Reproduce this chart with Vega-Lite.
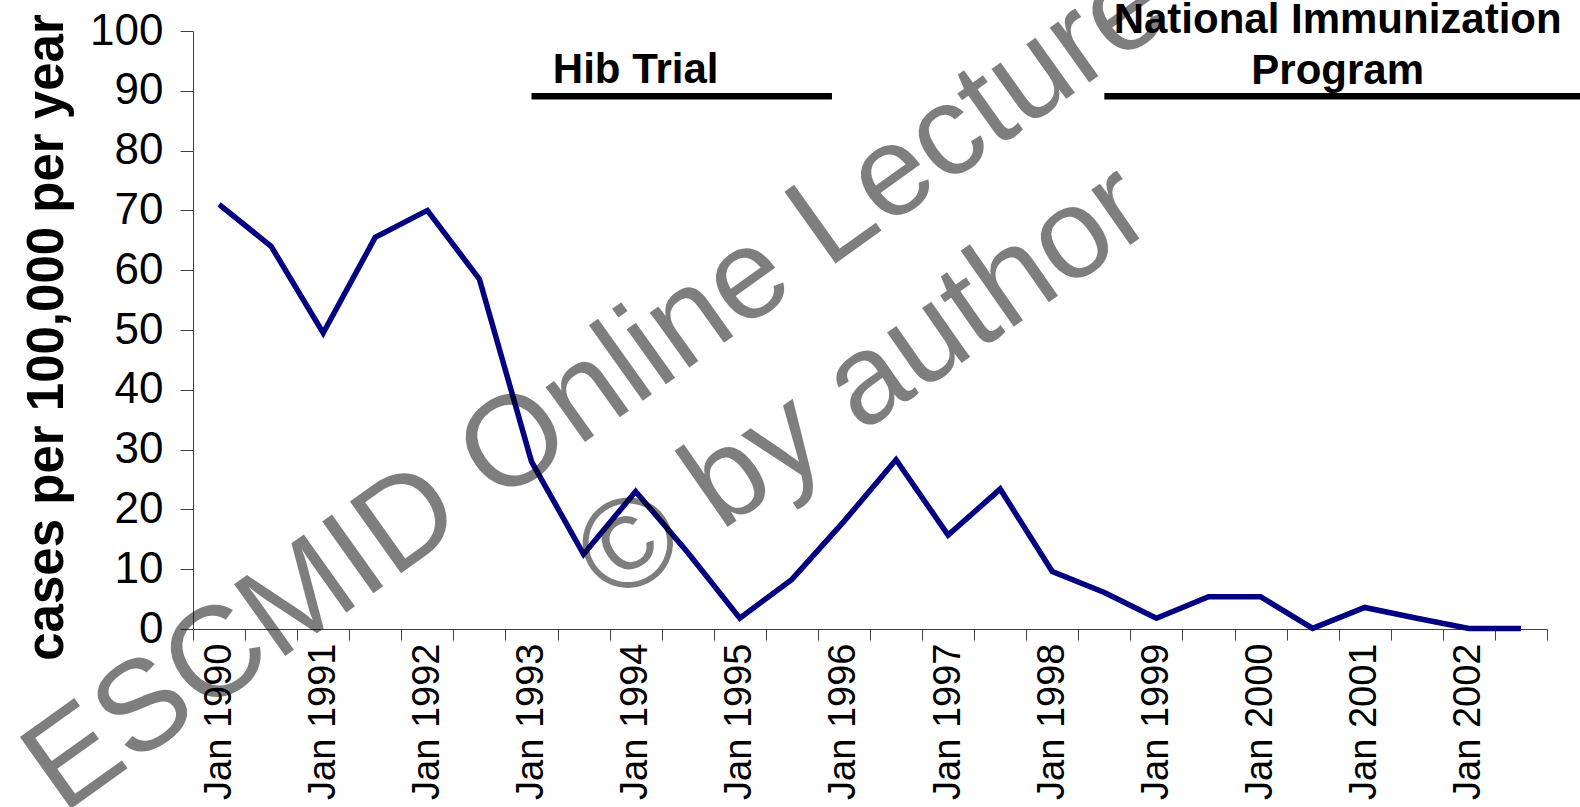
{
  "$schema": "https://vega.github.io/schema/vega-lite/v6.json",
  "width": 1354,
  "height": 598,
  "autosize": {"type": "none"},
  "padding": {"left": 193, "top": 31, "right": 33, "bottom": 178},
  "background": "white",
  "config": {"view": {"stroke": null}, "font": "Liberation Sans"},
  "datasets": {
    "cases": [
      {"period": "Jan 1990", "rate": 71},
      {"period": "Jul 1990", "rate": 64},
      {"period": "Jan 1991", "rate": 49.5},
      {"period": "Jul 1991", "rate": 65.5},
      {"period": "Jan 1992", "rate": 70},
      {"period": "Jul 1992", "rate": 58.5},
      {"period": "Jan 1993", "rate": 28},
      {"period": "Jul 1993", "rate": 12.5},
      {"period": "Jan 1994", "rate": 23},
      {"period": "Jul 1994", "rate": 12.8},
      {"period": "Jan 1995", "rate": 1.8},
      {"period": "Jul 1995", "rate": 8.3},
      {"period": "Jan 1996", "rate": 18},
      {"period": "Jul 1996", "rate": 28.3},
      {"period": "Jan 1997", "rate": 15.7},
      {"period": "Jul 1997", "rate": 23.4},
      {"period": "Jan 1998", "rate": 9.6},
      {"period": "Jul 1998", "rate": 6.1},
      {"period": "Jan 1999", "rate": 1.8},
      {"period": "Jul 1999", "rate": 5.4},
      {"period": "Jan 2000", "rate": 5.4},
      {"period": "Jul 2000", "rate": 0.1},
      {"period": "Jan 2001", "rate": 3.6},
      {"period": "Jul 2001", "rate": 1.8},
      {"period": "Jan 2002", "rate": 0.1},
      {"period": "Jul 2002", "rate": 0.1}
    ]
  },
  "layer": [
    {
      "data": {"name": "cases"},
      "mark": {"type": "line", "color": "#000080", "strokeWidth": 5.5, "strokeJoin": "miter"},
      "encoding": {
        "x": {
          "field": "period",
          "type": "ordinal",
          "sort": null,
          "scale": {
            "type": "band",
            "paddingInner": 0,
            "paddingOuter": 0,
            "domain": ["Jan 1990","Jul 1990","Jan 1991","Jul 1991","Jan 1992","Jul 1992","Jan 1993","Jul 1993","Jan 1994","Jul 1994","Jan 1995","Jul 1995","Jan 1996","Jul 1996","Jan 1997","Jul 1997","Jan 1998","Jul 1998","Jan 1999","Jul 1999","Jan 2000","Jul 2000","Jan 2001","Jul 2001","Jan 2002","Jul 2002"]
          },
          "axis": {
            "title": null,
            "labelExpr": "substring(datum.label,0,3)=='Jan' ? datum.label : ''",
            "labelAngle": 270,
            "labelAlign": "right",
            "labelBaseline": "middle",
            "labelFontSize": 38,
            "labelFont": "Liberation Sans",
            "labelColor": "#000000",
            "labelPadding": 3,
            "labelOverlap": false,
            "tickBand": "extent",
            "tickSize": 11,
            "tickColor": "#404040",
            "domainColor": "#404040"
          }
        },
        "y": {
          "field": "rate",
          "type": "quantitative",
          "scale": {"domain": [0, 100], "nice": false},
          "axis": {
            "title": "cases per 100,000 per year",
            "values": [0, 10, 20, 30, 40, 50, 60, 70, 80, 90, 100],
            "grid": false,
            "tickSize": 13,
            "tickColor": "#404040",
            "domainColor": "#404040",
            "labelFontSize": 44,
            "labelFont": "Liberation Sans Narrow, Liberation Sans",
            "labelColor": "#000000",
            "labelPadding": 17,
            "titleFont": "Liberation Sans",
            "titleFontSize": 51,
            "titleFontWeight": "bold",
            "titleColor": "#000000",
            "titleAngle": 270,
            "titleAlign": "center",
            "titleBaseline": "alphabetic",
            "titleX": -131,
            "titleY": 306
          }
        }
      }
    },
    {
      "data": {"values": [{"label": "Hib Trial"}]},
      "mark": {"type": "rule", "color": "#000000", "strokeWidth": 6.5, "x2Offset": -12},
      "encoding": {
        "x": {"datum": "Jan 1993"},
        "x2": {"datum": "Jan 1996"},
        "y": {"datum": 89.1}
      }
    },
    {
      "data": {"values": [{"label": "National Immunization Program"}]},
      "mark": {"type": "rule", "color": "#000000", "strokeWidth": 6.5, "x2Offset": 60},
      "encoding": {
        "x": {"datum": "Jul 1998"},
        "x2": {"datum": "Jul 2002"},
        "y": {"datum": 89.1}
      }
    },
    {
      "data": {"values": [{"label": "Hib Trial"}]},
      "mark": {"type": "text", "font": "Liberation Sans", "fontSize": 42, "fontWeight": "bold", "color": "#000000", "align": "center", "baseline": "alphabetic"},
      "encoding": {
        "x": {"datum": "Jan 1994"},
        "y": {"datum": 91.3},
        "text": {"field": "label"}
      }
    },
    {
      "data": {"values": [{"label": "National Immunization"}]},
      "mark": {"type": "text", "font": "Liberation Sans", "fontSize": 42, "fontWeight": "bold", "color": "#000000", "align": "center", "baseline": "alphabetic", "dx": 25},
      "encoding": {
        "x": {"datum": "Jul 2000"},
        "y": {"datum": 99.7},
        "text": {"field": "label"}
      }
    },
    {
      "data": {"values": [{"label": "Program"}]},
      "mark": {"type": "text", "font": "Liberation Sans", "fontSize": 42, "fontWeight": "bold", "color": "#000000", "align": "center", "baseline": "alphabetic", "dx": 25},
      "encoding": {
        "x": {"datum": "Jul 2000"},
        "y": {"datum": 91.2},
        "text": {"field": "label"}
      }
    },
    {
      "data": {"values": [{"label": "ESCMID Online Lecture"}]},
      "mark": {"type": "text", "font": "Liberation Sans", "fontSize": 128, "color": "#000000", "opacity": 0.5, "align": "center", "baseline": "alphabetic", "angle": 324.5, "dx": -21},
      "encoding": {
        "x": {"datum": "Jan 1994"},
        "y": {"datum": 37.3},
        "text": {"field": "label"}
      }
    },
    {
      "data": {"values": [{"label": "© by author"}]},
      "mark": {"type": "text", "font": "Liberation Sans", "fontSize": 128, "color": "#000000", "opacity": 0.5, "align": "center", "baseline": "alphabetic", "angle": 325, "dx": -12},
      "encoding": {
        "x": {"datum": "Jul 1996"},
        "y": {"datum": 36.8},
        "text": {"field": "label"}
      }
    }
  ]
}
